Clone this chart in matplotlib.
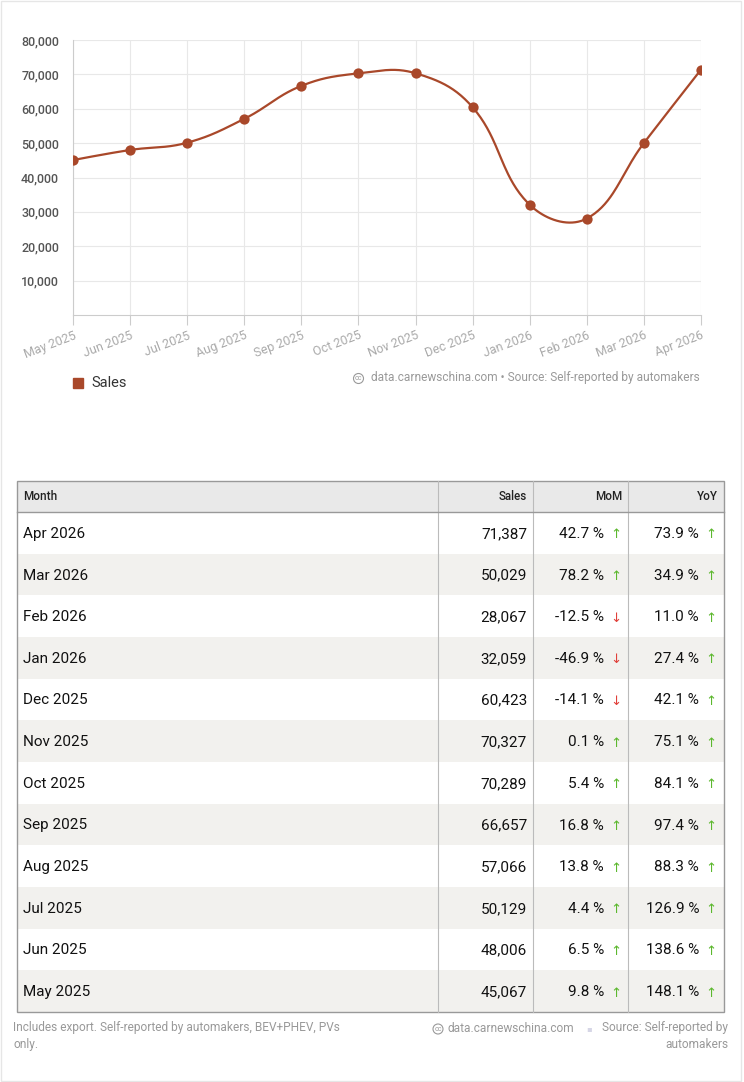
import numpy as np
import matplotlib
matplotlib.use('Agg')
import matplotlib.pyplot as plt
from matplotlib.patches import Rectangle, Circle

plt.rcParams['font.family'] = ['Roboto', 'DejaVu Sans']

# data, oldest first (chart order)
months = ['May 2025', 'Jun 2025', 'Jul 2025', 'Aug 2025', 'Sep 2025', 'Oct 2025',
          'Nov 2025', 'Dec 2025', 'Jan 2026', 'Feb 2026', 'Mar 2026', 'Apr 2026']
sales = [45067, 48006, 50129, 57066, 66657, 70289, 70327, 60423, 32059, 28067, 50029, 71387]
mom = [9.8, 6.5, 4.4, 13.8, 16.8, 5.4, 0.1, -14.1, -46.9, -12.5, 78.2, 42.7]
yoy = [148.1, 138.6, 126.9, 88.3, 97.4, 84.1, 75.1, 42.1, 27.4, 11.0, 34.9, 73.9]
y_ticks = [10000, 20000, 30000, 40000, 50000, 60000, 70000, 80000]

LINE = '#a9482a'
W, H = 744, 1082
PLOT = (73, 40, 701, 315)  # left, top, right, bottom in pixels


def spline(xs, ys, sx, sy, n=40, tension=0.4):
    # chart.js style cubic interpolation, distances measured in pixels
    p = np.column_stack([np.asarray(xs, float) * sx, np.asarray(ys, float) * sy])
    m = len(p)
    cprev = p.copy()
    cnext = p.copy()
    for i in range(1, m - 1):
        d01 = np.hypot(*(p[i] - p[i - 1]))
        d12 = np.hypot(*(p[i + 1] - p[i]))
        s01 = d01 / (d01 + d12)
        s12 = d12 / (d01 + d12)
        cprev[i] = p[i] - tension * s01 * (p[i + 1] - p[i - 1])
        cnext[i] = p[i] + tension * s12 * (p[i + 1] - p[i - 1])
    t = np.linspace(0, 1, n)[:, None]
    out = []
    for i in range(m - 1):
        p0, p1, p2, p3 = p[i], cnext[i], cprev[i + 1], p[i + 1]
        seg = (1 - t) ** 3 * p0 + 3 * (1 - t) ** 2 * t * p1 + 3 * (1 - t) * t ** 2 * p2 + t ** 3 * p3
        out.append(seg if i == 0 else seg[1:])
    out = np.vstack(out)
    return out[:, 0] / sx, out[:, 1] / sy


fig = plt.figure(figsize=(W / 100, H / 100), dpi=100)

# overlay in pixel coordinates for table, legend, texts
bg = fig.add_axes([0, 0, 1, 1])
bg.set_xlim(0, W)
bg.set_ylim(H, 0)
bg.axis('off')
bg.add_patch(Rectangle((0.5, 0.5), W - 4, H - 2, fill=False, ec='#e6e6e6', lw=1))

# ---- line chart ----
pl, pt, pr, pb = PLOT
ax = fig.add_axes([pl / W, 1 - pb / H, (pr - pl) / W, (pb - pt) / H])
x = np.arange(len(months))
kx = (pr - pl) / (len(months) - 1)
ky = (pb - pt) / 80000
cx_, cy_ = spline(x, sales, kx, ky)
ax.plot(cx_, cy_, color=LINE, lw=1.6, zorder=3, solid_capstyle='round')
ax.scatter(x, sales, s=55, color=LINE, zorder=4, lw=0)
ax.set_xlim(0, len(months) - 1)
ax.set_ylim(0, 80000)
ax.set_yticks(y_ticks)
ax.set_yticklabels([f'{v:,}' for v in y_ticks], color='#555555', fontsize=9, fontweight='medium')
ax.set_xticks(x)
ax.set_xticklabels(months, rotation=21, ha='right', rotation_mode='anchor',
                   color='#aaaaaa', fontsize=9)
ax.grid(True, color='#e8e8e8', lw=0.8)
ax.set_axisbelow(True)
for s in ['top', 'right']:
    ax.spines[s].set_visible(False)
ax.spines['left'].set_color('#cccccc')
ax.spines['bottom'].set_color('#cccccc')
ax.tick_params(axis='y', length=0, pad=10)
ax.tick_params(axis='x', length=7, color='#cccccc', pad=3)

# legend and source
bg.add_patch(Rectangle((73, 378), 10, 10, color=LINE))
bg.text(91, 383, 'Sales', fontsize=10.5, color='#333333', va='center')
bg.add_patch(Circle((358.5, 378.5), 5, fill=False, ec='#999999', lw=0.8))
bg.text(358.5, 379, 'cc', fontsize=5, color='#999999', ha='center', va='center')
bg.text(700, 378, 'data.carnewschina.com \u2022 Source: Self-reported by automakers',
        fontsize=8.6, color='#999999', ha='right', va='center')

# ---- table ----
tl, tr, tt, hb = 17, 724, 481, 512
row_h = (1012 - hb) / len(months)
cols = [tl, 438, 533, 628, tr]
bg.add_patch(Rectangle((tl, tt), tr - tl, hb - tt, color='#e9e9e9', lw=0))
hy = (tt + hb) / 2
bg.text(23, hy, 'Month', fontsize=8.4, color='#222222', va='center', fontweight='medium')
for c, lab in zip(cols[2:], ['Sales', 'MoM', 'YoY']):
    bg.text(c - 6, hy, lab, fontsize=8.4, color='#222222', va='center', ha='right',
            fontweight='medium')

for r, i in enumerate(range(len(months) - 1, -1, -1)):
    top = hb + r * row_h
    cy = top + row_h / 2 + 1
    if r % 2 == 1:
        bg.add_patch(Rectangle((tl, top), tr - tl, row_h, color='#f2f1ee', lw=0))
    bg.text(23, cy, months[i], fontsize=11, color='#111111', va='center')
    bg.text(527, cy, f'{sales[i]:,}', fontsize=11, color='#111111', va='center', ha='right')
    for val, right in [(mom[i], 604), (yoy[i], 699)]:
        bg.text(right, cy, f'{val:.1f} %', fontsize=11, color='#111111', va='center', ha='right')
        up = val >= 0
        bg.text(right + 12, cy + 1, '\u2191' if up else '\u2193', fontsize=9.5,
                color='#5cb82e' if up else '#e0403a', va='center', ha='center',
                family='DejaVu Sans')

for c in cols[1:4]:
    bg.plot([c, c], [tt, 1012], color='#bbbbbb', lw=0.8)
bg.plot([tl, tr], [hb, hb], color='#999999', lw=1)
bg.add_patch(Rectangle((tl, tt), tr - tl, 1012 - tt, fill=False, ec='#999999', lw=1))

# ---- footer ----
bg.text(13, 1021, 'Includes export. Self-reported by automakers, BEV+PHEV, PVs\nonly.',
        fontsize=8.6, color='#999999', va='top', linespacing=1.4)
bg.add_patch(Circle((438, 1029), 5, fill=False, ec='#999999', lw=0.8))
bg.text(438, 1029.5, 'cc', fontsize=5, color='#999999', ha='center', va='center')
bg.text(448, 1029, 'data.carnewschina.com', fontsize=8.6, color='#999999', va='center')
bg.text(589, 1029, '\u25aa', fontsize=6, color='#d6d6e6', va='center', ha='center')
bg.text(728, 1021, 'Source: Self-reported by\nautomakers', fontsize=8.6, color='#999999',
        va='top', ha='right', linespacing=1.4)

fig.savefig('out.png', dpi=100)
